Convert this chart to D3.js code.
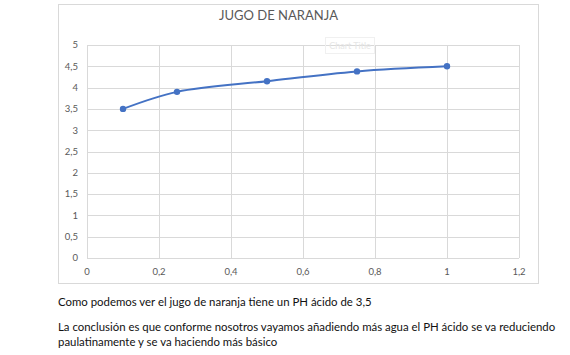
<!DOCTYPE html>
<html><head><meta charset="utf-8">
<script src="https://cdn.jsdelivr.net/npm/d3@7"></script>
<style>body{margin:0;background:#fff}svg{display:block}</style>
</head><body>
<script>
const xValues = [0.1, 0.25, 0.5, 0.75, 1];
const phValues = [3.5, 3.9, 4.15, 4.38, 4.5];
const xTicks = [0, 0.2, 0.4, 0.6, 0.8, 1, 1.2];
const yTicks = [0, 0.5, 1, 1.5, 2, 2.5, 3, 3.5, 4, 4.5, 5];
const title = "JUGO DE NARANJA";
const bodyLines = [
  "Como podemos ver el jugo de naranja tiene un PH ácido de 3,5",
  "La conclusión es que conforme nosotros vayamos añadiendo más agua el PH ácido se va reduciendo",
  "paulatinamente y se va haciendo más básico"
];

const W = 570, H = 355;
const font = "Lato, 'Open Sans', sans-serif";
const svg = d3.select("body").append("svg").attr("width", W).attr("height", H);

// chart frame
svg.append("rect").attr("x", 58.5).attr("y", 4.5).attr("width", 480).attr("height", 279)
  .attr("fill", "#fff").attr("stroke", "#d9d9d9");

const x = d3.scaleLinear().domain([0, 1.2]).range([87, 519]);
const y = d3.scaleLinear().domain([0, 5]).range([258, 45]);
const fmt = d => String(d).replace(".", ",");

// gridlines
svg.append("g").selectAll("line").data(yTicks).join("line")
  .attr("x1", x(0)).attr("x2", x(1.2))
  .attr("y1", d => Math.round(y(d)) + 0.5).attr("y2", d => Math.round(y(d)) + 0.5)
  .attr("stroke", "#d9d9d9");
svg.append("g").selectAll("line").data(xTicks).join("line")
  .attr("y1", y(0)).attr("y2", y(5))
  .attr("x1", d => Math.round(x(d)) + 0.5).attr("x2", d => Math.round(x(d)) + 0.5)
  .attr("stroke", "#d9d9d9");

// axis labels
svg.append("g").selectAll("text").data(yTicks).join("text")
  .attr("x", 78).attr("y", d => y(d)).attr("dy", "0.35em")
  .attr("text-anchor", "end").attr("font-family", font).attr("font-size", 9.5)
  .attr("fill", "#595959").text(fmt);
svg.append("g").selectAll("text").data(xTicks).join("text")
  .attr("x", d => x(d)).attr("y", 272).attr("dy", "0.35em")
  .attr("text-anchor", "middle").attr("font-family", font).attr("font-size", 9.5)
  .attr("fill", "#595959").text(fmt);

// faint "Chart Title" ghost
svg.append("rect").attr("x", 325.5).attr("y", 37.5).attr("width", 49).attr("height", 16)
  .attr("fill", "none").attr("stroke", "#f0f0f0");
svg.append("text").attr("x", 350).attr("y", 49).attr("text-anchor", "middle")
  .attr("font-family", font).attr("font-size", 9).attr("fill", "#e6e6e6").text("Chart Title");

// title
const t = svg.append("text").attr("x", 278.5).attr("y", 20).attr("text-anchor", "middle")
  .attr("font-family", font).attr("font-size", 14).attr("fill", "#595959").text(title);
const tw = t.node().getComputedTextLength();
t.attr("font-size", 14 * 119 / tw);

// line
const data = xValues.map((v, i) => [v, phValues[i]]);
svg.append("path").datum(data)
  .attr("d", d3.line().x(d => x(d[0])).y(d => y(d[1])).curve(d3.curveCatmullRom.alpha(0.5)))
  .attr("fill", "none").attr("stroke", "#4472c4").attr("stroke-width", 2);
svg.append("g").selectAll("circle").data(data).join("circle")
  .attr("cx", d => x(d[0])).attr("cy", d => y(d[1])).attr("r", 3.2)
  .attr("fill", "#4472c4");

// body text
const baselines = [306, 330.5, 345.5];
const bt = svg.append("g").selectAll("text").data(bodyLines).join("text")
  .attr("x", 58).attr("y", (d, i) => baselines[i])
  .attr("font-family", font).attr("font-size", 14).attr("fill", "#111").text(d => d);
const w2 = bt.nodes()[1].getComputedTextLength();
bt.attr("font-size", 14 * 498 / w2);
</script>
</body></html>
